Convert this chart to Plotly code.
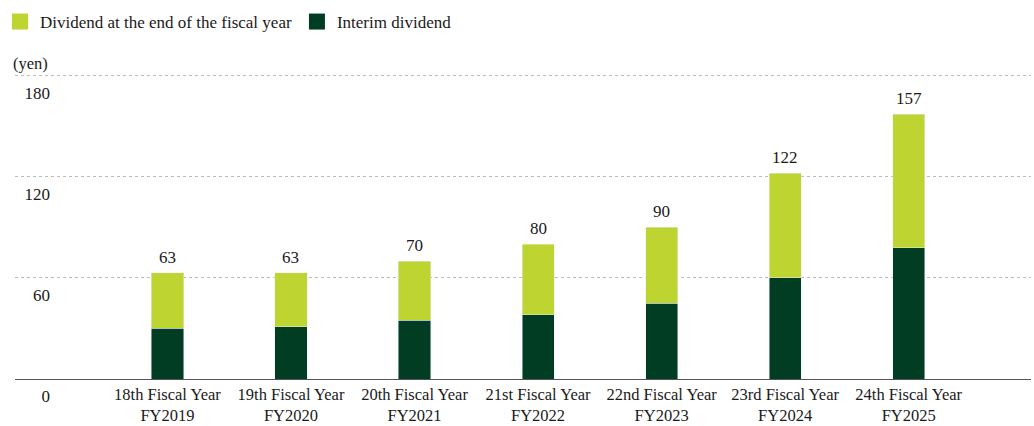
import plotly.graph_objects as go

categories = ["18th Fiscal Year<br>FY2019", "19th Fiscal Year<br>FY2020", "20th Fiscal Year<br>FY2021",
              "21st Fiscal Year<br>FY2022", "22nd Fiscal Year<br>FY2023", "23rd Fiscal Year<br>FY2024",
              "24th Fiscal Year<br>FY2025"]
interim = [30, 31, 35, 38, 45, 60, 78]
year_end = [33, 32, 35, 42, 45, 62, 79]
totals = [63, 63, 70, 80, 90, 122, 157]
y_ticks = [0, 60, 120, 180]

LIGHT = "#BDD431"
DARK = "#003D22"
FONT = "Liberation Serif, Times New Roman, serif"
TXT = "#1a1a1a"

x_idx = list(range(len(categories)))

fig = go.Figure()
fig.add_trace(go.Bar(x=x_idx, y=interim, name="Interim dividend", marker_color=DARK,
                     width=0.26, showlegend=False))
fig.add_trace(go.Bar(x=x_idx, y=year_end, name="Dividend at the end of the fiscal year",
                     marker_color=LIGHT, width=0.26, showlegend=False))
# legend entries (square swatches)
fig.add_trace(go.Scatter(x=[None], y=[None], mode="markers", name="Dividend at the end of the fiscal year",
                         marker=dict(symbol="square", size=16, color=LIGHT), legendrank=1))
fig.add_trace(go.Scatter(x=[None], y=[None], mode="markers", name="Interim dividend",
                         marker=dict(symbol="square", size=16, color=DARK), legendrank=2))

for i, t in enumerate(totals):
    fig.add_annotation(x=i, y=t, text=str(t), showarrow=False, yanchor="bottom",
                       yshift=4, font=dict(family=FONT, size=17, color=TXT))

fig.add_annotation(text="(yen)", xref="paper", yref="paper", x=-4 / 1016, y=(379 - 63) / 310,
                   xanchor="left", yanchor="middle", showarrow=False,
                   font=dict(family=FONT, size=16.5, color=TXT))

fig.update_layout(
    width=1034, height=426,
    barmode="stack",
    plot_bgcolor="white", paper_bgcolor="white",
    margin=dict(l=15, r=3, t=69, b=47, autoexpand=False),
    font=dict(family=FONT, size=16, color=TXT),
    legend=dict(orientation="h", xref="container", yref="container", x=0, y=1 - 4 / 426,
                xanchor="left", yanchor="top", font=dict(family=FONT, size=17, color=TXT),
                itemsizing="trace", itemwidth=30, traceorder="normal"),
    xaxis=dict(range=[-1.234, 6.99], tickmode="array", tickvals=x_idx, ticktext=categories,
               showline=True, linecolor="#555", linewidth=1, showgrid=False, ticks="",
               automargin=False, tickfont=dict(family=FONT, size=16.5, color=TXT)),
    yaxis=dict(range=[0, 184], tickmode="array", tickvals=y_ticks, ticktext=[str(v) for v in y_ticks],
               showgrid=True, gridcolor="#BBBBBB", griddash="3px,3px", gridwidth=1,
               zeroline=False, ticks="", ticklabelstandoff=-36, ticklabelshift=17,
               automargin=False, tickfont=dict(family=FONT, size=17, color=TXT)),
    bargap=0.7,
)

fig.write_html("out.html", config={"displayModeBar": False},
               post_script="document.body.style.margin='0';")
